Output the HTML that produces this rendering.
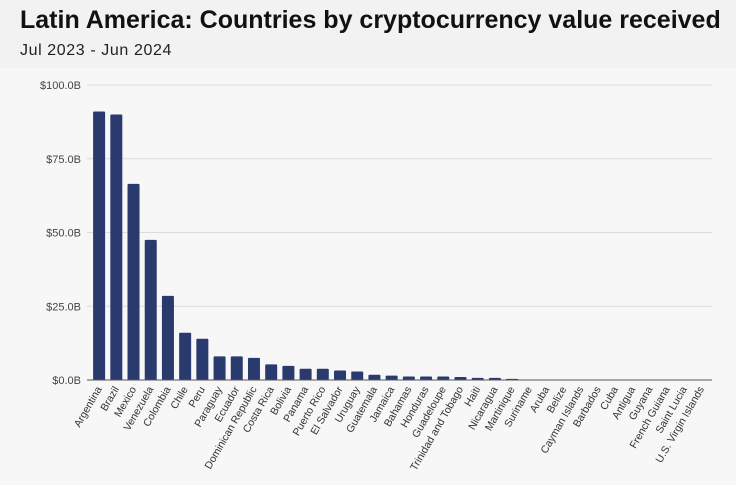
<!DOCTYPE html>
<html><head><meta charset="utf-8"><style>
body{margin:0;width:736px;height:485px;background:#f7f7f7;font-family:"Liberation Sans",sans-serif;overflow:hidden}
#hdr{position:absolute;left:0;top:0;width:736px;height:68px;background:#f2f2f2}
#title{position:absolute;left:20px;top:6px;font-size:25px;font-weight:bold;color:#111;white-space:nowrap}
#sub{position:absolute;left:20px;top:42px;font-size:16px;letter-spacing:0.6px;color:#222}
svg{position:absolute;left:0;top:0}
</style></head><body>
<div id="hdr"></div>
<div id="title">Latin America: Countries by cryptocurrency value received</div>
<div id="sub">Jul 2023 - Jun 2024</div>
<svg id="c" width="736" height="485"></svg>
<script>
const categories=["Argentina","Brazil","Mexico","Venezuela","Colombia","Chile","Peru","Paraguay","Ecuador","Dominican Republic","Costa Rica","Bolivia","Panama","Puerto Rico","El Salvador","Uruguay","Guatemala","Jamaica","Bahamas","Honduras","Guadeloupe","Trinidad and Tobago","Haiti","Nicaragua","Martinique","Suriname","Aruba","Belize","Cayman Islands","Barbados","Cuba","Antigua","Guyana","French Guiana","Saint Lucia","U.S. Virgin Islands"];
const values=[91,90,66.5,47.5,28.5,16,14,8,8,7.5,5.3,4.8,3.8,3.8,3.2,2.9,1.8,1.5,1.2,1.2,1.2,1.0,0.7,0.7,0.4,0.05,0.05,0.03,0.03,0.02,0.02,0.02,0.02,0.01,0.01,0.01];
const yTicks=[0,25,50,75,100];
const yTickLabels=["$0.0B","$25.0B","$50.0B","$75.0B","$100.0B"];
const svg=document.getElementById('c');const NS='http://www.w3.org/2000/svg';
const x0=90.5,x1=710,yTop=85,yBot=380,yMax=100;
const band=(x1-x0)/categories.length;
const y=v=>yBot-(v/yMax)*(yBot-yTop);
const xc=i=>x0+band*(i+0.5);
function mk(t,a){const e=document.createElementNS(NS,t);for(const k in a)e.setAttribute(k,a[k]);svg.appendChild(e);return e;}
yTicks.forEach((t,i)=>{
 if(t>0){const g=mk('line',{x1:87,x2:712,y1:y(t),y2:y(t),stroke:'#dcdcdc','stroke-width':1});
 
 }
 const l=mk('text',{x:81,y:y(t)+4,'text-anchor':'end','font-size':11,fill:'#444'});
 l.textContent=yTickLabels[i];
 
 
});
values.forEach((v,i)=>{
 const h=Math.max(yBot-y(v),0);
 const r=mk('rect',{x:xc(i)-6,y:yBot-h,width:12,height:h,fill:'#2b3a6e',rx:1});
 
 
 const t=mk('text',{x:0,y:0,'text-anchor':'end','font-size':10.5,fill:'#333',transform:`translate(${xc(i)+3},${yBot+9}) rotate(-60)`});
 t.textContent=categories[i];
 
 
});
const ax=mk('line',{x1:87,x2:712,y1:yBot,y2:yBot,stroke:'#555','stroke-width':1});


</script>
</body></html>
